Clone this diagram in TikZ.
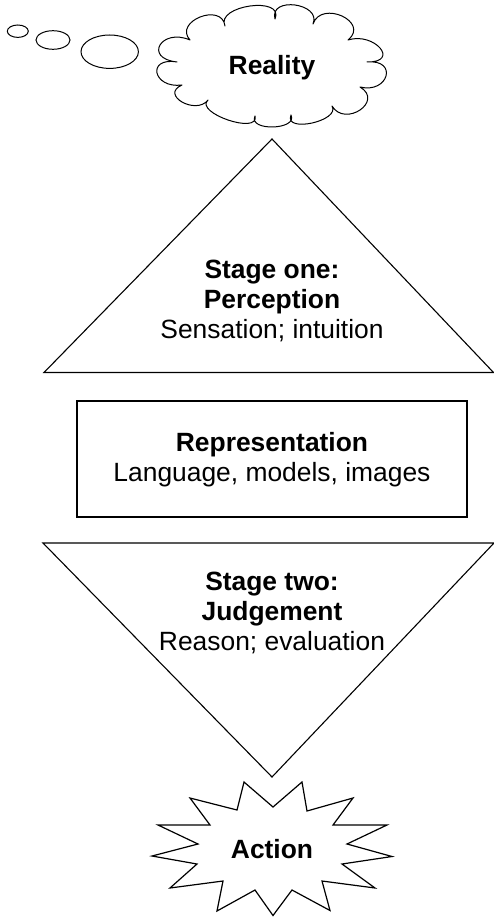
\documentclass[tikz,border=0pt]{standalone}
\usepackage{fontspec}
\setmainfont{Liberation Sans}
\usetikzlibrary{shapes.geometric}
\begin{document}
\begin{tikzpicture}[x=1pt,y=-1pt, line width=1.1pt, line join=miter,
  txt/.style={align=center, font=\fontsize{26.4}{30}\selectfont, inner sep=0pt},
  bubble/.style={ellipse, draw, inner sep=0pt, line width=1pt},
  outline/.style={draw, line width=1.1pt}]
\useasboundingbox (0,0) rectangle (494,917);
% thought bubbles
\node[bubble, minimum width=21pt, minimum height=12.4pt] (b1) at (17.8,31.2) {};
\node[bubble, minimum width=34pt, minimum height=18.6pt] (b2) at (53,40) {};
\node[bubble, minimum width=57.4pt, minimum height=33.4pt] (b3) at (109.7,51.7) {};
% cloud
\draw[line width=1pt, line join=round] (177,62)
  .. controls (143.1,58.4) and (161.3,27.6) .. (190,40)
  .. controls (173,21.5) and (222,1.9) .. (225,26)
  .. controls (215,5.4) and (285,-4.4) .. (275,19)
  .. controls (268.7,-4) and (321.9,3) .. (313,24)
  .. controls (321.3,-0.5) and (370.3,21.9) .. (348,40)
  .. controls (374.2,31.6) and (400.8,62.4) .. (367,62)
  .. controls (398.4,59) and (388.6,94) .. (360,87)
  .. controls (384.3,101.2) and (345.1,127.8) .. (332,106)
  .. controls (340.9,120.9) and (283.5,133.5) .. (291,115)
  .. controls (298.2,130.1) and (247.8,131.5) .. (255,116)
  .. controls (259.7,135.2) and (193.9,112.8) .. (208,100)
  .. controls (195.9,115.7) and (159.5,94.7) .. (182,85)
  .. controls (153,88.9) and (146,56.7) .. (177,62) -- cycle;
\node[txt, font=\fontsize{26.4}{30}\selectfont\bfseries] (reality) at (272,68) {Reality};
% stage one triangle
\coordinate (t1a) at (272,139);
\coordinate (t1l) at (44,372.5);
\coordinate (t1r) at (493.5,372.5);
\draw[outline] (t1a) -- (t1r) -- (t1l) -- cycle;
\node[txt] (stage1) at (272,300.5) {\textbf{Stage one:}\\\textbf{Perception}\\Sensation; intuition};
% representation box
\node[draw, line width=1.1pt, minimum width=390pt, minimum height=116pt, inner sep=0pt] (repbox) at (272,459) {};
\node[txt] (rep) at (272,459.5) {\textbf{Representation}\\Language, models, images};
% stage two triangle
\coordinate (t2l) at (43,543);
\coordinate (t2r) at (494,543);
\coordinate (t2b) at (272,777);
\draw[outline] (t2l) -- (t2r) -- (t2b) -- cycle;
\node[txt] (stage2) at (272,612.5) {\textbf{Stage two:}\\\textbf{Judgement}\\Reason; evaluation};
% action starburst
\draw[outline, line width=1.2pt] (273,807) -- (302,782) -- (307,811) -- (353,798) -- (333,825) -- (387,825)
  -- (347,844) -- (392,856.5) -- (342,864) -- (375,888) -- (322,881) -- (330,910.5)
  -- (292,890) -- (273,915.5) -- (255,890) -- (217,911) -- (223,881) -- (170,888)
  -- (197,864) -- (152,856) -- (198,844) -- (158,825) -- (210,825) -- (190,798)
  -- (237,810) -- (244,782) -- cycle;
\node[txt, font=\fontsize{26.4}{30}\selectfont\bfseries] (action) at (272,849) {Action};
\end{tikzpicture}
\end{document}
